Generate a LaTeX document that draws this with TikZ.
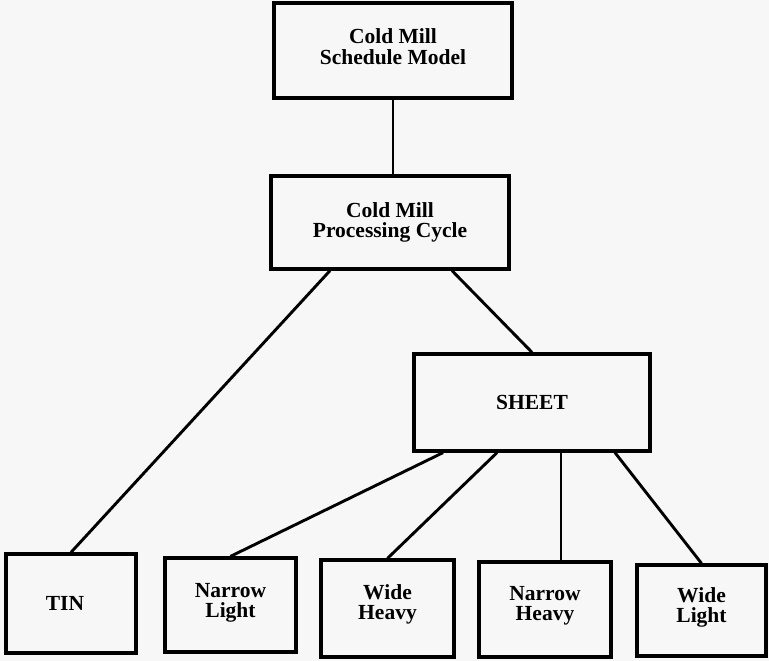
\documentclass[tikz,border=0pt]{standalone}
\usepackage{fontspec}
\setmainfont{Liberation Serif}
\newcommand{\dn}[1]{\rule[-#1]{0pt}{0pt}}
\begin{document}
\begin{tikzpicture}[x=1pt,y=-1pt,
  box/.style={draw=black, line width=3.3pt, rectangle, align=center, inner sep=0pt,
    font=\bfseries\fontsize{21.5}{20.5}\selectfont},
  link/.style={draw=black, line width=2.9pt}]
  % page
  \fill[white!97!black] (0,0) rectangle (769,661);
  \useasboundingbox (0,0) rectangle (769,661);

  % upper levels
  \node[box, minimum width=238pt, minimum height=95pt] (top) at (393,50.5)
    {Cold Mill\\Schedule Model\dn{8pt}};
  \node[box, minimum width=238pt, minimum height=93pt] (proc) at (390,222.5)
    {Cold Mill\\Processing Cycle};
  \node[box, minimum width=236pt, minimum height=97pt] (sheet) at (532,402.5)
    {SHEET};

  % product families
  \node[box, minimum width=130pt, minimum height=99pt] (tin) at (71,603.5)
    {TIN\kern12pt};
  \node[box, minimum width=131pt, minimum height=94pt] (nl) at (230.5,605)
    {Narrow\\Light\dn{9.5pt}};
  \node[box, minimum width=133pt, minimum height=97pt] (wh) at (387.5,608.5)
    {Wide\\Heavy\dn{12.5pt}};
  \node[box, minimum width=132pt, minimum height=95pt] (nh) at (545,609.5)
    {Narrow\\Heavy\dn{12pt}};
  \node[box, minimum width=129pt, minimum height=91pt] (wl) at (701.5,610.5)
    {Wide\\Light\dn{10.5pt}};

  % connectors
  \draw[link] (top.south) -- (top.south |- proc.north);
  \draw[link] ([xshift=-60pt]proc.south) -- (tin.north);
  \draw[link] ([xshift=62pt]proc.south) -- (sheet.north);
  \draw[link] ([xshift=-89pt]sheet.south) -- (nl.north);
  \draw[link] ([xshift=-35pt]sheet.south) -- (wh.north);
  \coordinate (nhtop) at ([xshift=29pt]sheet.south);
  \draw[link] (nhtop) -- (nhtop |- nh.north);
  \draw[link] ([xshift=83pt]sheet.south) -- (wl.north);
\end{tikzpicture}
\end{document}
